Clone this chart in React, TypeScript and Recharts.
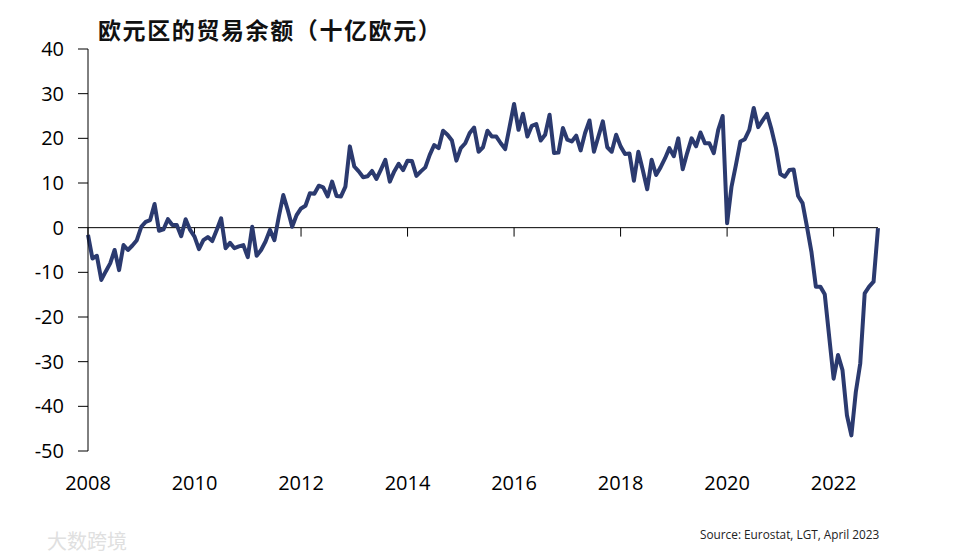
import { LineChart, Line, XAxis, YAxis, ReferenceLine } from 'recharts';

// 欧元区贸易余额, 月度, 2008-01 起 (十亿欧元)
const balance = [
  -1.6, -6.9, -6.3, -11.7, -9.8, -8.0, -5.0, -9.5, -3.9, -5.0, -4.0, -2.8,
  0.2, 1.3, 1.7, 5.3, -0.7, -0.4, 1.9, 0.6, 0.6, -1.9, 1.9, -0.5,
  -2.0, -4.8, -2.8, -2.1, -3.0, -0.5, 2.1, -4.6, -3.4, -4.6, -4.2, -3.9,
  -6.6, 0.2, -6.3, -5.0, -3.1, -0.5, -2.8, 2.5, 7.3, 4.0, 0.2, 2.8,
  4.3, 4.9, 7.7, 7.6, 9.4, 9.0, 7.0, 10.3, 7.1, 7.0, 9.2, 18.2,
  13.7, 12.6, 11.3, 11.5, 12.7, 10.9, 13.0, 15.2, 10.3, 12.6, 14.3, 12.9,
  15.0, 14.9, 11.6, 12.6, 13.5, 16.3, 18.5, 17.8, 21.7, 20.8, 19.5, 15.0,
  17.8, 18.9, 21.2, 22.4, 17.0, 18.0, 21.7, 20.4, 20.4, 18.9, 17.6, 22.6,
  27.7, 21.9, 25.5, 20.4, 22.8, 23.2, 19.5, 20.8, 25.3, 16.7, 16.8, 22.3,
  19.7, 19.3, 20.6, 17.3, 21.2, 24.0, 17.0, 20.4, 23.8, 18.0, 17.0, 20.8,
  18.2, 16.5, 16.6, 10.5, 17.0, 12.9, 8.6, 15.2, 11.8, 13.5, 15.5, 17.8,
  16.0, 20.0, 13.1, 16.7, 20.0, 18.2, 21.3, 18.9, 18.9, 16.7, 21.9, 25.0,
  1.0, 9.2, 14.1, 19.3, 19.8, 21.9, 26.8, 22.5, 24.0, 25.5, 22.0, 17.8,
  12.0, 11.4, 12.9, 13.0, 7.1, 5.5, 0.2, -5.4, -13.2, -13.2, -14.9, -24.4,
  -33.8, -28.5, -31.9, -42.0, -46.5, -36.8, -30.4, -14.7, -13.2, -12.1, -0.1,
];

const years = ['2008', '2010', '2012', '2014', '2016', '2018', '2020', '2022'];
const yTicks = [-50, -40, -30, -20, -10, 0, 10, 20, 30, 40];

const data = balance.map((v, i) => ({ i, v }));
const xTicks = years.map((_, k) => k * 24);

const FONT = '"Open Sans", sans-serif';

export default function App() {
  return (
    <div style={{ position: 'absolute', left: 0, top: 0, width: 968, height: 556, background: '#fff' }}>
      <div
        style={{
          position: 'absolute',
          left: 98,
          top: 16,
          fontFamily: '"Noto Sans CJK SC", sans-serif',
          fontWeight: 700,
          fontSize: 23,
          letterSpacing: 1.6,
          lineHeight: '26px',
          color: '#111',
          whiteSpace: 'nowrap',
        }}
      >
        欧元区的贸易余额（十亿欧元）
      </div>

      <LineChart width={968} height={556} data={data} margin={{ top: 49, right: 90, bottom: 65, left: 0 }}>
        <XAxis
          type="number"
          dataKey="i"
          domain={[0, balance.length - 1]}
          ticks={xTicks}
          interval={0}
          tickFormatter={(t: number) => years[Math.round(t / 24)]}
          axisLine={false}
          tickLine={false}
          tickSize={0}
          tickMargin={25}
          height={40}
          tick={{ fill: '#000', fontSize: 20, fontFamily: FONT }}
        />
        <YAxis
          type="number"
          domain={[-50, 40]}
          ticks={yTicks}
          interval={0}
          width={88}
          tickSize={10}
          tickMargin={14}
          axisLine={{ stroke: '#000', strokeWidth: 1 }}
          tickLine={{ stroke: '#000', strokeWidth: 1 }}
          tick={{ fill: '#000', fontSize: 20, fontFamily: FONT }}
        />
        <ReferenceLine y={0} stroke="#000" strokeWidth={1} />
        {xTicks.map(t => (
          <ReferenceLine
            key={t}
            segment={[{ x: t, y: 0 }, { x: t, y: -2 }]}
            stroke="#000"
            strokeWidth={1}
          />
        ))}
        <Line
          type="linear"
          dataKey="v"
          stroke="#2b3a6f"
          strokeWidth={4}
          strokeLinejoin="round"
          dot={false}
          isAnimationActive={false}
        />
      </LineChart>

      <div
        style={{
          position: 'absolute',
          left: 47,
          top: 526,
          fontFamily: '"Noto Sans CJK SC", sans-serif',
          fontSize: 20,
          color: '#e0e0e0',
          whiteSpace: 'nowrap',
        }}
      >
        大数跨境
      </div>

      <div
        style={{
          position: 'absolute',
          left: 700,
          top: 526,
          fontFamily: FONT,
          fontSize: 11.8,
          color: '#222',
          whiteSpace: 'nowrap',
        }}
      >
        Source: Eurostat, LGT, April 2023
      </div>
    </div>
  );
}
